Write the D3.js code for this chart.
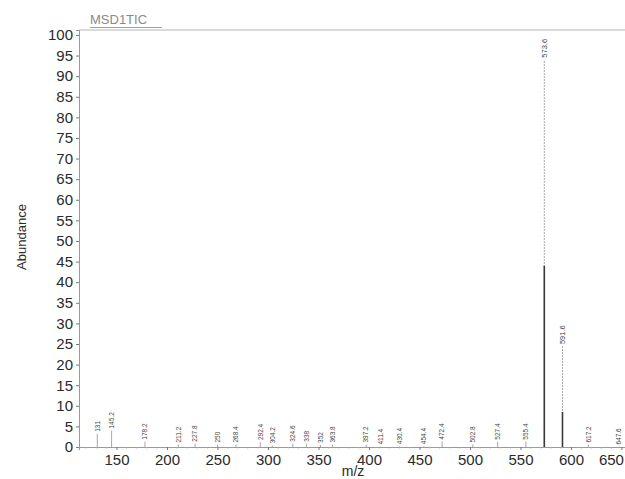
<!DOCTYPE html>
<html>
<head>
<meta charset="utf-8">
<script src="https://cdn.jsdelivr.net/npm/d3@7"></script>
<style>
  body { margin: 0; background: #fff; }
  svg { display: block; }
</style>
</head>
<body>
<div id="chart"></div>
<script>
// peak positions (m/z), heights (abundance) and the darker lower core seen in the scan
const peakMz = [131, 145.2, 178.2, 211.2, 227.8, 250, 268.4, 292.4, 304.2, 324.6, 338, 352, 363.8,
  397.2, 411.4, 430.4, 454.4, 472.4, 502.8, 527.4, 555.4, 573.6, 591.6, 617.2, 647.6];
const peakAbund = [3.2, 4.0, 1.3, 0.6, 0.8, 0.6, 0.6, 1.2, 0.4, 0.8, 0.8, 0.5, 0.6,
  0.6, 0.1, 0.2, 0.2, 1.3, 0.6, 1.3, 1.3, 94, 24.5, 0.6, 0.1];
const peakCore = [3.2, 4.0, 1.3, 0.6, 0.8, 0.6, 0.6, 1.2, 0.4, 0.8, 0.8, 0.5, 0.6,
  0.6, 0.1, 0.2, 0.2, 1.3, 0.6, 1.3, 1.3, 44, 8.5, 0.6, 0.1];
const peakLabels = ["131", "145.2", "178.2", "211.2", "227.8", "250", "268.4", "292.4", "304.2",
  "324.6", "338", "352", "363.8", "397.2", "411.4", "430.4", "454.4", "472.4", "502.8", "527.4",
  "555.4", "573.6", "591.6", "617.2", "647.6"];
const xTicks = [150, 200, 250, 300, 350, 400, 450, 500, 550, 600, 650];
const yTicks = [0, 5, 10, 15, 20, 25, 30, 35, 40, 45, 50, 55, 60, 65, 70, 75, 80, 85, 90, 95, 100];

const WIDTH = 625;
const HEIGHT = 479;
const LEFT = 79;
const RIGHT = 625;
const TOP = 30;
const BOTTOM = 447;

var xScale = d3.scaleLinear().domain([112.9, 653.5]).range([LEFT, RIGHT]);
var yScale = d3.scaleLinear().domain([0, 101.2]).range([BOTTOM, TOP]);

var svg = d3.select("#chart")
  .append("svg")
  .attr("width", WIDTH)
  .attr("height", HEIGHT)
  .style("font-family", "'Liberation Sans', Arial, sans-serif");

var peaks = peakMz.map((d, i) => ({
  mz: d, abund: peakAbund[i], core: peakCore[i], label: peakLabels[i]
}));

function drawFrame() {
  svg.append("line")
    .attr("x1", LEFT).attr("x2", RIGHT)
    .attr("y1", TOP).attr("y2", TOP)
    .style("stroke", "#b5b5b5")
    .style("stroke-width", 1);

  svg.append("text")
    .attr("x", 90)
    .attr("y", 24)
    .style("font-size", "13px")
    .style("fill", "#8a8a8a")
    .text("MSD1TIC");

  svg.append("line")
    .attr("x1", 90).attr("x2", 162)
    .attr("y1", 27.5).attr("y2", 27.5)
    .style("stroke", "#a0a0a0");
}

function drawAxes() {
  var yAxis = d3.axisLeft(yScale).tickValues(yTicks).tickSize(3).tickPadding(3);
  var gy = svg.append("g")
    .attr("transform", "translate(" + LEFT + ",0)")
    .call(yAxis);
  gy.select(".domain").style("stroke", "#9a9a9a");
  gy.selectAll(".tick line").style("stroke", "#777");
  gy.selectAll(".tick text")
    .style("font-size", "15px")
    .style("fill", "#2a2a2a")
    .style("font-family", "'Liberation Sans', Arial, sans-serif");

  var xAxis = d3.axisBottom(xScale).tickValues(xTicks).tickSize(3).tickPadding(4);
  var gx = svg.append("g")
    .attr("transform", "translate(0," + BOTTOM + ")")
    .call(xAxis);
  gx.select(".domain").style("stroke", "#9a9a9a");
  gx.selectAll(".tick line").style("stroke", "#777");
  gx.selectAll(".tick text")
    .style("font-size", "15px")
    .style("fill", "#2a2a2a")
    .style("font-family", "'Liberation Sans', Arial, sans-serif");
  // last label sits against the right edge of the page
  gx.selectAll(".tick text")
    .filter((d) => d == 650)
    .attr("text-anchor", "end")
    .attr("dx", "2");

  // small minor ticks along the baseline
  var minor = d3.range(120, 651, 10).filter((d) => d % 50 != 0);
  svg.selectAll("line.minor")
    .data(minor)
    .enter()
    .append("line")
    .attr("class", "minor")
    .attr("x1", (d) => xScale(d)).attr("x2", (d) => xScale(d))
    .attr("y1", BOTTOM).attr("y2", BOTTOM + 1.5)
    .style("stroke", "#aaa");

  svg.append("text")
    .attr("transform", "translate(26," + 237 + ") rotate(-90)")
    .attr("text-anchor", "middle")
    .style("font-size", "13px")
    .style("fill", "#2a2a2a")
    .text("Abundance");

  svg.append("text")
    .attr("x", 353)
    .attr("y", 476)
    .attr("text-anchor", "middle")
    .style("font-size", "14px")
    .style("fill", "#2a2a2a")
    .text("m/z");
}

function drawPeaks() {
  svg.selectAll("line.peak")
    .data(peaks)
    .enter()
    .append("line")
    .attr("class", "peak")
    .attr("x1", (d) => xScale(d.mz)).attr("x2", (d) => xScale(d.mz))
    .attr("y1", yScale(0))
    .attr("y2", (d) => yScale(d.abund))
    .style("stroke", "#a8a8a8")
    .style("stroke-width", 1)
    .style("stroke-dasharray", (d) => d.abund > 10 ? "2,1" : null);

  svg.selectAll("line.core")
    .data(peaks.filter((d) => d.core > 5))
    .enter()
    .append("line")
    .attr("class", "core")
    .attr("x1", (d) => xScale(d.mz)).attr("x2", (d) => xScale(d.mz))
    .attr("y1", yScale(0))
    .attr("y2", (d) => yScale(d.core))
    .style("stroke", "#3a3a3a")
    .style("stroke-width", 1.6);

  svg.selectAll("text.peaklabel")
    .data(peaks)
    .enter()
    .append("text")
    .attr("class", "peaklabel")
    .attr("transform", (d) =>
      "translate(" + (xScale(d.mz) + 2.3) + "," + (yScale(d.abund) - 2) + ") rotate(-90)")
    .style("font-size", (d) => d.abund > 10 ? "7.5px" : "6.5px")
    .style("fill", "#444")
    .text((d) => d.label);
}

drawFrame();
drawPeaks();
drawAxes();
</script>
</body>
</html>
